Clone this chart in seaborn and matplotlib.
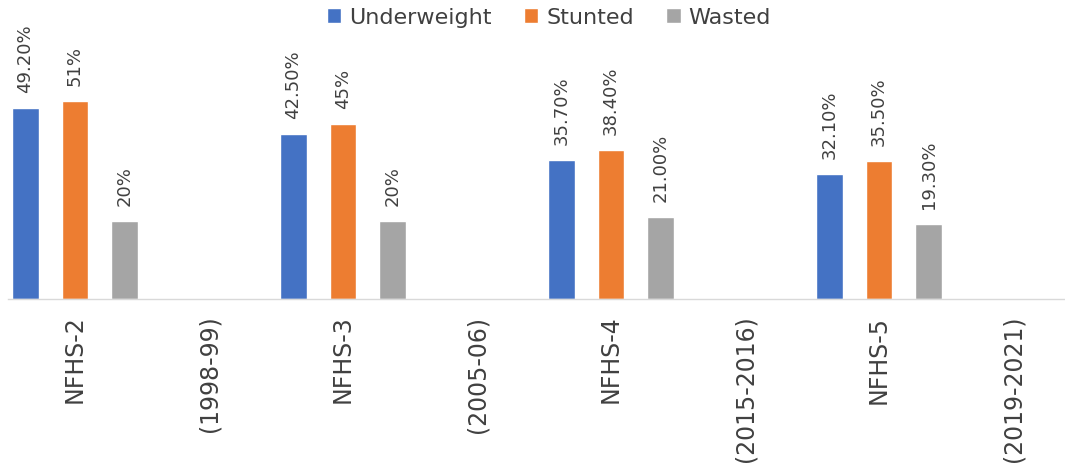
import numpy as np
import pandas as pd
import matplotlib
matplotlib.use("Agg")
import matplotlib.pyplot as plt
import seaborn as sns

categories = ["NFHS-2", "(1998-99)", "NFHS-3", "(2005-06)",
              "NFHS-4", "(2015-2016)", "NFHS-5", "(2019-2021)"]
series_names = ["Underweight", "Stunted", "Wasted"]
underweight = [49.2, np.nan, 42.5, np.nan, 35.7, np.nan, 32.1, np.nan]
stunted = [51.0, np.nan, 45.0, np.nan, 38.4, np.nan, 35.5, np.nan]
wasted = [20.0, np.nan, 20.0, np.nan, 21.0, np.nan, 19.3, np.nan]
underweight_labels = ["49.20%", "", "42.50%", "", "35.70%", "", "32.10%", ""]
stunted_labels = ["51%", "", "45%", "", "38.40%", "", "35.50%", ""]
wasted_labels = ["20%", "", "20%", "", "21.00%", "", "19.30%", ""]
colors = ["#4472C4", "#ED7D31", "#A5A5A5"]

df = pd.DataFrame({
    "category": categories * 3,
    "series": np.repeat(series_names, len(categories)),
    "value": underweight + stunted + wasted,
})
label_sets = {"Underweight": underweight_labels,
              "Stunted": stunted_labels,
              "Wasted": wasted_labels}

sns.set_style("white")
plt.rcParams["font.family"] = ["DejaVu Sans"]

W, H = 1065, 469
fig = plt.figure(figsize=(W / 100, H / 100), dpi=100)
ax = fig.add_axes([8 / W, (H - 298.7) / H, 1072 / W, 233 / H])

sns.barplot(data=df, x="category", y="value", hue="series",
            order=categories, hue_order=series_names, palette=colors,
            width=1.113, gap=0.466, saturation=1, errorbar=None,
            ax=ax, legend=True)

ax.set_xlim(-0.5, 7.5)
ax.set_ylim(0, 60)

for container, name in zip(ax.containers, series_names):
    labs = []
    for bar in container:
        idx = int(round(bar.get_x() + bar.get_width() / 2))
        labs.append(label_sets[name][idx])
    ax.bar_label(container, labels=labs, rotation=90, padding=10.8,
                 fontsize=13, color="#404040")

for s in ["top", "right", "left"]:
    ax.spines[s].set_visible(False)
ax.spines["bottom"].set_color("#d9d9d9")
ax.spines["bottom"].set_linewidth(1)
ax.set_yticks([])
ax.set_xlabel("")
ax.set_ylabel("")
ax.tick_params(axis="x", length=0, pad=12.2, labelsize=17,
               labelcolor="#404040", rotation=90)

handles, labels = ax.get_legend_handles_labels()
if ax.get_legend() is not None:
    ax.get_legend().remove()
fig.legend(handles, labels, loc="center",
           bbox_to_anchor=(549 / W, 1 - 17.5 / H), ncol=3, frameon=False,
           fontsize=16, handlelength=0.65, handleheight=0.65,
           handletextpad=0.36, columnspacing=1.45, borderpad=0,
           labelcolor="#404040")

fig.savefig("out.png", dpi=100)
